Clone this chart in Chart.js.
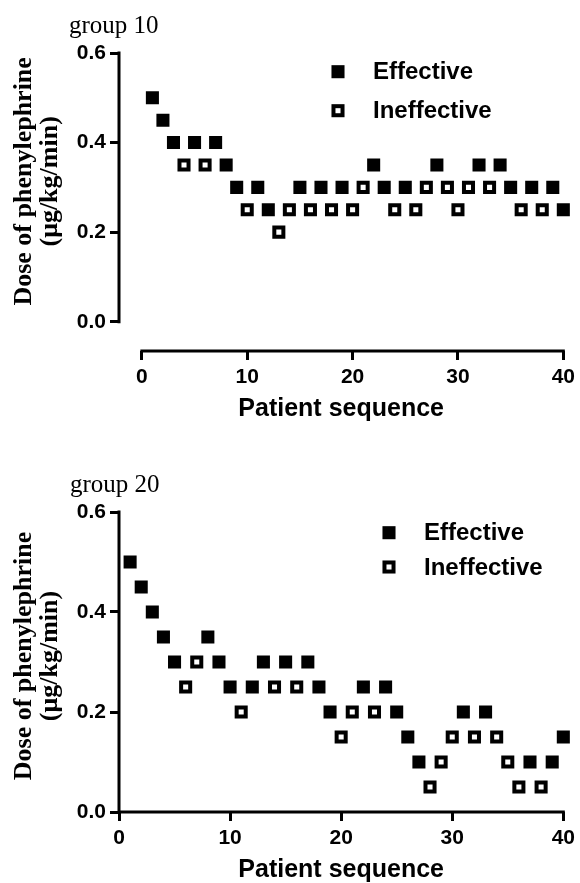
<!DOCTYPE html>
<html><head><meta charset="utf-8">
<script src="https://cdn.jsdelivr.net/npm/chart.js@4/dist/chart.umd.min.js"></script>
<style>
html,body{margin:0;padding:0;background:#fff;}
#wrap{position:relative;width:580px;height:883px;overflow:hidden;}
.box{position:absolute;left:0;width:580px;}
</style></head><body>
<div id="wrap">
<div class="box" style="top:0;height:440px"><canvas id="c1"></canvas></div>
<div class="box" style="top:440px;height:443px"><canvas id="c2"></canvas></div>
</div>
<script>
// ---- data ----
const patientSequence = [1,2,3,4,5,6,7,8,9,10,11,12,13,14,15,16,17,18,19,20,21,22,23,24,25,26,27,28,29,30,31,32,33,34,35,36,37,38,39,40];
const group10Dose = [0.5,0.45,0.4,0.35,0.4,0.35,0.4,0.35,0.3,0.25,0.3,0.25,0.2,0.25,0.3,0.25,0.3,0.25,0.3,0.25,0.3,0.35,0.3,0.25,0.3,0.25,0.3,0.35,0.3,0.25,0.3,0.35,0.3,0.35,0.3,0.25,0.3,0.25,0.3,0.25];
const group10Effective = [1,1,1,0,1,0,1,1,1,0,1,1,0,0,1,0,1,0,1,0,0,1,1,0,1,0,0,1,0,0,0,1,0,1,1,0,1,0,1,1];
const group20Dose = [0.5,0.45,0.4,0.35,0.3,0.25,0.3,0.35,0.3,0.25,0.2,0.25,0.3,0.25,0.3,0.25,0.3,0.25,0.2,0.15,0.2,0.25,0.2,0.25,0.2,0.15,0.1,0.05,0.1,0.15,0.2,0.15,0.2,0.15,0.1,0.05,0.1,0.05,0.1,0.15];
const group20Effective = [1,1,1,1,1,0,0,1,1,1,0,1,1,0,1,0,1,1,1,0,0,1,0,1,1,1,1,0,0,0,1,0,1,0,0,0,1,0,1,1];
const xTicks = [0,10,20,30,40];
const yTicks = [0,0.2,0.4,0.6];
const seriesNames = ['Effective','Ineffective'];
const groupTitles = ['group 10','group 20'];
const xTitle = 'Patient sequence';
const yTitle = ['Dose of phenylephrine','(\u03bcg/kg/min)'];

function points(doses, eff, want){
  return patientSequence.map((p,i)=>({x:p,y:doses[i],e:eff[i]})).filter(d=>d.e===want).map(d=>({x:d.x,y:d.y}));
}

const R = 6.4, BW = 4;

function decorPlugin(o){
  return {
    id:'decor',
    afterDraw(chart){
      const {ctx, chartArea:ca, scales:{x,y}} = chart;
      ctx.save();
      ctx.strokeStyle='#000'; ctx.fillStyle='#000';
      ctx.lineWidth=3; ctx.lineCap='square';
      const x0=x.getPixelForValue(xTicks[0]), x1=x.getPixelForValue(xTicks[xTicks.length-1]);
      const y0=y.getPixelForValue(yTicks[0]), y1=y.getPixelForValue(yTicks[yTicks.length-1]);
      ctx.beginPath();
      ctx.moveTo(ca.left, y0); ctx.lineTo(ca.left, y1);
      ctx.moveTo(x0, ca.bottom); ctx.lineTo(x1, ca.bottom);
      ctx.stroke();
      // group title
      ctx.font = '25px "Liberation Serif", "Times New Roman", serif';
      ctx.textAlign='left'; ctx.textBaseline='alphabetic';
      ctx.fillText(o.title, o.titleX, o.titleY);
      // y title
      ctx.font = 'bold 26px "Liberation Serif", "Times New Roman", serif';
      ctx.textAlign='center'; ctx.textBaseline='middle';
      const cy = (y0+y1)/2 - 6;
      yTitle.forEach((t,i)=>{
        ctx.save();
        ctx.translate(o.yTitleX + i*26, cy);
        ctx.rotate(-Math.PI/2);
        ctx.fillText(t,0,0);
        ctx.restore();
      });
      // legend
      ctx.font = 'bold 24px "Liberation Sans", Arial, sans-serif';
      ctx.textAlign='left'; ctx.textBaseline='middle';
      o.legendY.forEach((ly,i)=>{
        const side = 2*R*Math.SQRT1_2;
        ctx.lineWidth = BW;
        if(i===0){ ctx.fillRect(o.legendX-side/2-BW/2, ly-side/2-BW/2, side+BW, side+BW); }
        else { ctx.strokeRect(o.legendX-side/2, ly-side/2, side, side); }
        ctx.fillText(seriesNames[i], o.legendTextX, ly+1);
      });
      ctx.restore();
    }
  };
}

function makeChart(id, doses, eff, o){
  const tickFont = {family:'"Liberation Sans", Arial, sans-serif', size:21, weight:'bold'};
  const grid = {drawOnChartArea:false, drawTicks:true, tickLength:9, lineWidth:3, color:'#000'};
  return new Chart(document.getElementById(id), {
    type:'scatter',
    data:{datasets:[
      {label:seriesNames[0], data:points(doses,eff,1), pointStyle:'rect', pointRadius:R, pointBorderWidth:BW,
       pointBackgroundColor:'#000', pointBorderColor:'#000', showLine:false, clip:false},
      {label:seriesNames[1], data:points(doses,eff,0), pointStyle:'rect', pointRadius:R, pointBorderWidth:BW,
       pointBackgroundColor:'#fff', pointBorderColor:'#000', showLine:false, clip:false}
    ]},
    options:{
      responsive:true, maintainAspectRatio:false, animation:false, events:[],
      layout:{padding:o.padding},
      plugins:{legend:{display:false}, tooltip:{enabled:false}},
      scales:{
        x:{type:'linear', min:o.xMin, max:40,
           grid:grid, border:{display:false},
           afterBuildTicks(s){ s.ticks = xTicks.map(v=>({value:v})); },
           afterFit(s){ s.height = o.xHeight; },
           ticks:{font:tickFont, color:'#000', padding:5, autoSkip:false, maxRotation:0, callback:v=>String(v)},
           title:{display:true, text:xTitle, color:'#000',
                  font:{family:'"Liberation Sans", Arial, sans-serif', size:25, weight:'bold', lineHeight:1},
                  padding:{top:0,bottom:o.xTitlePad}}},
        y:{type:'linear', min:o.yMin, max:0.6,
           grid:grid, border:{display:false},
           afterBuildTicks(s){ s.ticks = yTicks.map(v=>({value:v})); },
           afterFit(s){ s.width = 119; },
           ticks:{font:tickFont, color:'#000', padding:4, autoSkip:false, callback:v=>v.toFixed(1)}}
      }
    },
    plugins:[decorPlugin(o)]
  });
}

makeChart('c1', group10Dose, group10Effective, {
  padding:{top:53,right:14,bottom:0,left:0}, xMin:-2.17, yMin:-0.0654, xHeight:89, xTitlePad:18.5,
  title:groupTitles[0], titleX:69, titleY:33, yTitleX:24,
  legendX:338, legendY:[71.7,110.7], legendTextX:373
});
makeChart('c2', group20Dose, group20Effective, {
  padding:{top:72,right:11,bottom:0,left:0}, xMin:0, yMin:0, xHeight:71, xTitlePad:0.5,
  title:groupTitles[1], titleX:70, titleY:52, yTitleX:24,
  legendX:389, legendY:[92.7,127], legendTextX:424
});
</script>
</body></html>
